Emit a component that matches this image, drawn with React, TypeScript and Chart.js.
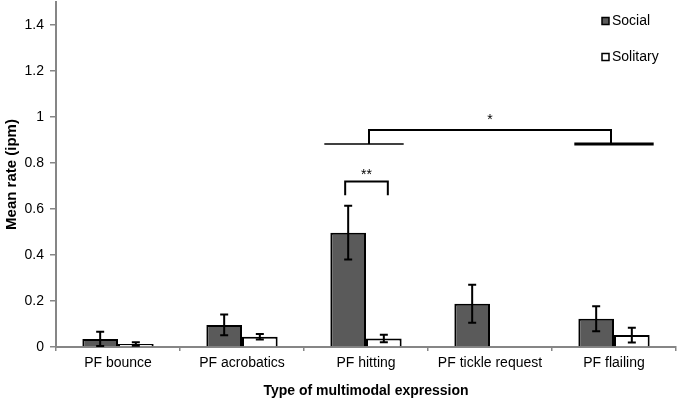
import { useEffect, useRef } from 'react';
import { Chart, registerables } from 'chart.js';

Chart.register(...registerables);

// data
const categories = ['PF bounce', 'PF acrobatics', 'PF hitting', 'PF tickle request', 'PF flailing'];
const socialMeans = [0.035, 0.096, 0.497, 0.188, 0.123];
const socialErrors = [0.031, 0.045, 0.117, 0.083, 0.054];
const solitaryMeans = [0.013, 0.045, 0.037, null, 0.052];
const solitaryErrors = [0.008, 0.012, 0.016, null, 0.032];

const yMax = 1.5;
const yStep = 0.2;
const yLastLabel = 1.4;

// significance marks
const pairMark = { index: 2, level: 0.72, drop: 0.06, label: '**' };
const groupMark = { from: 2, to: 4, base: 0.883, level: 0.943, label: '*' };

const FONT = "'Liberation Sans', Arial, sans-serif";
const AXIS_GRAY = '#868686';

const errorBars = {
  id: 'errorBars',
  afterDatasetsDraw(chart: any) {
    const { ctx } = chart;
    const y = chart.scales.y;
    const errs = [socialErrors, solitaryErrors];
    ctx.save();
    ctx.strokeStyle = '#000';
    ctx.lineWidth = 2;
    chart.data.datasets.forEach((ds: any, di: number) => {
      const meta = chart.getDatasetMeta(di);
      ds.data.forEach((v: number | null, i: number) => {
        const e = errs[di][i];
        if (v == null || e == null) return;
        const x = meta.data[i].x;
        const top = y.getPixelForValue(v + e);
        const bot = y.getPixelForValue(Math.max(0, v - e));
        ctx.beginPath();
        ctx.moveTo(x, top);
        ctx.lineTo(x, bot);
        ctx.moveTo(x - 4, top);
        ctx.lineTo(x + 4, top);
        ctx.moveTo(x - 4, bot);
        ctx.lineTo(x + 4, bot);
        ctx.stroke();
      });
    });
    ctx.restore();
  },
};

const significance = {
  id: 'significance',
  afterDatasetsDraw(chart: any) {
    const { ctx } = chart;
    const x = chart.scales.x;
    const y = chart.scales.y;
    const catW = x.getPixelForValue(1) - x.getPixelForValue(0);
    ctx.save();
    ctx.strokeStyle = '#000';
    ctx.fillStyle = '#000';
    ctx.textAlign = 'center';
    ctx.textBaseline = 'middle';
    ctx.font = `14px ${FONT}`;

    // ** between the two bars of one category
    const xa = chart.getDatasetMeta(0).data[pairMark.index].x - 3;
    const xb = chart.getDatasetMeta(1).data[pairMark.index].x + 4;
    const yl = y.getPixelForValue(pairMark.level);
    const yd = y.getPixelForValue(pairMark.level - pairMark.drop);
    ctx.lineWidth = 2;
    ctx.beginPath();
    ctx.moveTo(xa, yd);
    ctx.lineTo(xa, yl);
    ctx.lineTo(xb, yl);
    ctx.lineTo(xb, yd);
    ctx.stroke();
    ctx.fillText(pairMark.label, (xa + xb) / 2, yl - 6);

    // * between two categories
    const c1 = x.getPixelForValue(groupMark.from);
    const c2 = x.getPixelForValue(groupMark.to);
    const half = catW * 0.32;
    const yb = y.getPixelForValue(groupMark.base);
    const yt = y.getPixelForValue(groupMark.level);
    ctx.lineWidth = 1.5;
    ctx.beginPath();
    ctx.moveTo(c1 - 2 - half, yb);
    ctx.lineTo(c1 - 2 + half, yb);
    ctx.stroke();
    ctx.lineWidth = 3;
    ctx.beginPath();
    ctx.moveTo(c2 - half, yb);
    ctx.lineTo(c2 + half, yb);
    ctx.stroke();
    ctx.lineWidth = 2;
    ctx.beginPath();
    ctx.moveTo(c1 + 3, yb);
    ctx.lineTo(c1 + 3, yt);
    ctx.lineTo(c2 - 3, yt);
    ctx.lineTo(c2 - 3, yb);
    ctx.stroke();
    ctx.fillText(groupMark.label, (c1 + c2) / 2, yt - 10);
    ctx.restore();
  },
};

const sideLegend = {
  id: 'sideLegend',
  afterDraw(chart: any) {
    const { ctx, chartArea } = chart;
    const x0 = chartArea.right - 74;
    const rows = [21, 57];
    ctx.save();
    ctx.font = `14px ${FONT}`;
    ctx.textBaseline = 'middle';
    ctx.textAlign = 'left';
    chart.data.datasets.forEach((ds: any, i: number) => {
      const cy = rows[i];
      ctx.fillStyle = ds.backgroundColor;
      ctx.fillRect(x0, cy - 3.5, 7, 7);
      ctx.strokeStyle = '#000';
      ctx.lineWidth = 1.5;
      ctx.strokeRect(x0, cy - 3.5, 7, 7);
      ctx.fillStyle = '#000';
      ctx.fillText(ds.label, x0 + 10, cy);
    });
    ctx.restore();
  },
};

export default function App() {
  const canvasRef = useRef<HTMLCanvasElement>(null);
  const chartRef = useRef<Chart | null>(null);

  useEffect(() => {
    if (!canvasRef.current) return;
    if (chartRef.current) chartRef.current.destroy();

    chartRef.current = new Chart(canvasRef.current, {
      type: 'bar',
      data: {
        labels: categories,
        datasets: [
          {
            label: 'Social',
            data: socialMeans,
            backgroundColor: '#5a5a5a',
            borderColor: '#000',
            borderWidth: 2,
            borderSkipped: 'bottom',
          },
          {
            label: 'Solitary',
            data: solitaryMeans,
            backgroundColor: '#ffffff',
            borderColor: '#000',
            borderWidth: 2,
            borderSkipped: 'bottom',
          },
        ],
      },
      options: {
        animation: false,
        responsive: false,
        maintainAspectRatio: false,
        layout: { padding: { top: 2, right: 4, left: 0, bottom: 0 } },
        datasets: { bar: { categoryPercentage: 0.575, barPercentage: 1 } },
        plugins: {
          legend: { display: false },
          tooltip: { enabled: false },
        },
        scales: {
          x: {
            grid: {
              display: true,
              drawOnChartArea: false,
              drawTicks: true,
              tickLength: 4,
              color: AXIS_GRAY,
              lineWidth: 1.5,
            },
            border: { color: AXIS_GRAY, width: 2 },
            ticks: {
              color: '#000',
              font: { family: FONT, size: 14 },
              padding: 4,
              maxRotation: 0,
              autoSkip: false,
            },
            title: {
              display: true,
              text: 'Type of multimodal expression',
              color: '#000',
              font: { family: FONT, size: 14, weight: 'bold' },
              padding: { top: 3, bottom: 0 },
            },
            afterFit(scale: any) {
              scale.height = 53;
            },
          },
          y: {
            min: 0,
            max: yMax,
            grid: {
              display: true,
              drawOnChartArea: false,
              drawTicks: true,
              tickLength: 6,
              color: AXIS_GRAY,
              lineWidth: 1.5,
            },
            border: { color: AXIS_GRAY, width: 2 },
            ticks: {
              stepSize: yStep,
              color: '#000',
              font: { family: FONT, size: 14 },
              padding: 6,
              callback: (v: any) => String(Math.round(Number(v) * 10) / 10),
            },
            afterBuildTicks(scale: any) {
              scale.ticks = scale.ticks.filter((t: any) => t.value <= yLastLabel + 1e-6);
            },
            title: {
              display: true,
              text: 'Mean rate (ipm)',
              color: '#000',
              font: { family: FONT, size: 15, weight: 'bold' },
              padding: { top: 3, bottom: 0 },
            },
            afterFit(scale: any) {
              scale.width = 56;
              scale.paddingTop = 0;
              scale.paddingBottom = 0;
            },
          },
        },
      },
      plugins: [errorBars, significance, sideLegend],
    } as any);

    return () => {
      if (chartRef.current) {
        chartRef.current.destroy();
        chartRef.current = null;
      }
    };
  }, []);

  return (
    <div style={{ position: 'fixed', left: 0, top: 0, width: 680, height: 400, background: '#fff' }}>
      <canvas ref={canvasRef} width={680} height={400} style={{ width: 680, height: 400 }} />
    </div>
  );
}
